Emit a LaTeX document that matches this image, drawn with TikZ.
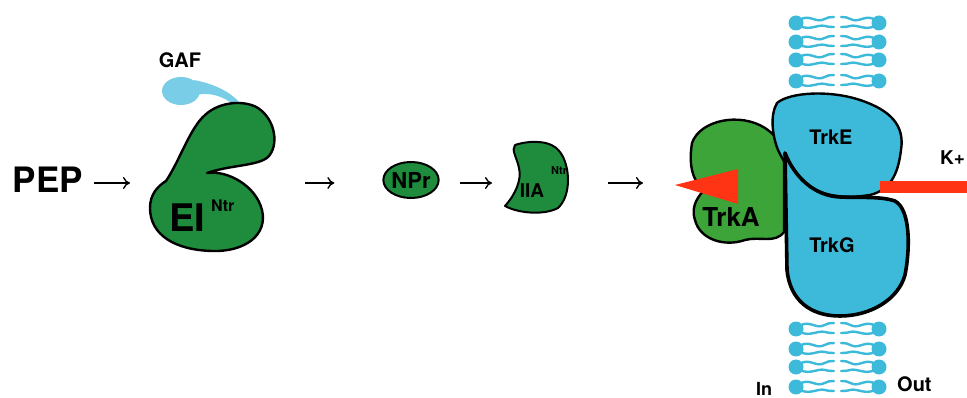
\documentclass[tikz,border=0pt]{standalone}
\usepackage{fontspec}
\setmainfont{TeX Gyre Heros}
\usepackage{tikz}
\usetikzlibrary{calc,positioning,shapes.geometric,arrows.meta}

\definecolor{eigreen}{HTML}{1E8C3C}
\definecolor{trkgreen}{HTML}{3CA438}
\definecolor{trkblue}{HTML}{3DBAD9}
\definecolor{gafblue}{HTML}{7ACDE6}
\definecolor{kred}{HTML}{FF3414}

\newcommand{\fs}[1]{\fontsize{#1}{#1}\selectfont\bfseries}

\tikzset{
  flow/.style={line width=1.4pt,-{To[length=7pt,width=12pt,line width=1.4pt]}},
  protein/.style={draw=black,line width=2.4pt,line join=round},
  lbl/.style={inner sep=0pt,anchor=base},
  lipid/.style={draw=trkblue,line width=2.4pt,line cap=round}
}

\begin{document}
\begin{tikzpicture}[x=1pt,y=-1pt]
\useasboundingbox (0,0) rectangle (967,398);

% PEP and EI(Ntr) with its GAF domain
\node[lbl] (pep) at (48,193) {\fs{35}PEP};
\fill[gafblue] (181,91) ellipse [x radius=19,y radius=14];
\fill[gafblue] (194,80) .. controls (215,84) and (230,92) .. (239,102)
  -- (233,104) .. controls (222,96) and (210,92) .. (196,95) -- cycle;
\draw[protein,fill=eigreen] (207,173) .. controls (228,170) and (256,186) .. (262,210)
  .. controls (268,235) and (245,252) .. (212,251)
  .. controls (175,250) and (150,235) .. (150,208)
  .. controls (150,194) and (158,186) .. (166,181)
  .. controls (180,160) and (190,128) .. (205,115)
  .. controls (220,101) and (245,100) .. (258,108)
  .. controls (276,120) and (279,146) .. (268,157)
  .. controls (258,166) and (230,165) .. (207,173) -- cycle;
\node[lbl] (gaf) at (180,68) {\fs{20}GAF};
\node[lbl] (ei) at (187,232) {\fs{38}EI};
\node[lbl,anchor=base west] (eisup) at (211,212) {\fs{16}Ntr};
\coordinate (eiW) at (150,183);
\coordinate (eiE) at (272,183);

% NPr and IIA(Ntr)
\node[ellipse,draw,line width=2pt,fill=eigreen,inner sep=0pt,
  minimum width=47pt,minimum height=36pt] (npr) at (411,180) {\fs{22}NPr};
\draw[protein,line width=2pt,fill=eigreen] (515,145) .. controls (530,140) and (552,140) .. (560,152)
  .. controls (570,165) and (572,195) .. (558,208)
  .. controls (545,215) and (520,214) .. (505,206)
  .. controls (515,195) and (522,180) .. (519,168)
  .. controls (517,158) and (511,150) .. (515,145) -- cycle;
\node[lbl] (iia) at (532,198) {\fs{19}IIA};
\node[lbl,anchor=base west] (iiasup) at (551,175) {\fs{11}Ntr};
\coordinate (iiaW) at (505,183);
\coordinate (iiaE) at (570,183);

% membrane
\foreach \y in {23,42,60,81,329,349,367,387}{
  \fill[trkblue] (796,\y) circle (7.5) (879,\y) circle (7.5);
  \draw[lipid] (800,\y-3) .. controls (808,\y-9) and (815,\y-1) .. (822,\y-3)
    .. controls (828,\y-5) and (830,\y-7) .. (834,\y-6);
  \draw[lipid] (800,\y+3) .. controls (810,\y+8) and (818,\y+1) .. (825,\y+3)
    .. controls (829,\y+4) and (831,\y+4) .. (834,\y+4);
  \draw[lipid] (875,\y-3) .. controls (867,\y-9) and (860,\y-1) .. (853,\y-3)
    .. controls (847,\y-5) and (845,\y-7) .. (841,\y-6);
  \draw[lipid] (875,\y+3) .. controls (865,\y+8) and (857,\y+1) .. (850,\y+3)
    .. controls (846,\y+4) and (844,\y+4) .. (841,\y+4);
}

% Trk system
\draw[protein,fill=trkgreen] (692,143) .. controls (700,120) and (740,112) .. (765,128)
  .. controls (780,138) and (785,150) .. (784,165) -- (784,232)
  .. controls (775,244) and (760,236) .. (745,240)
  .. controls (725,247) and (700,240) .. (695,220)
  .. controls (690,205) and (700,195) .. (704,190)
  .. controls (694,182) and (688,168) .. (692,143) -- cycle;
\draw[protein,fill=trkblue] (777,103) .. controls (790,92) and (830,90) .. (860,100)
  .. controls (890,110) and (905,125) .. (901,150)
  .. controls (898,175) and (890,190) .. (870,195)
  .. controls (850,198) and (830,198) .. (812,188)
  .. controls (795,178) and (785,165) .. (778,150)
  .. controls (772,135) and (770,115) .. (777,103) -- cycle;
\draw[protein,line width=3.6pt,fill=trkblue] (785,153) .. controls (795,178) and (815,196) .. (840,197)
  .. controls (860,198) and (880,196) .. (895,201)
  .. controls (911,210) and (910,250) .. (905,275)
  .. controls (898,300) and (870,316) .. (840,316)
  .. controls (810,316) and (790,300) .. (787,270) -- cycle;
\fill[kred] (675,185) -- (738,169) -- (738,204) -- cycle;
\fill[kred] (880,181) rectangle (970,193);
\coordinate (trkW) at (675,183);
\node[lbl] (trka) at (731,227) {\fs{26}TrkA};
\node[lbl] (trke) at (831,145) {\fs{20}TrkE};
\node[lbl] (trkg) at (832,253) {\fs{20}TrkG};
\node[lbl,anchor=base west] (kplus) at (940,165) {\fs{19}K+};
\node[lbl,anchor=base west] (in) at (756,395) {\fs{18}In};
\node[lbl,anchor=base west] (out) at (897,391) {\fs{20}Out};

% reaction arrows
\draw[flow,shorten <=11pt,shorten >=20pt] (pep.east |- eiW) -- (eiW);
\draw[flow,shorten <=33pt,shorten >=48pt] (eiE) -- (npr.west |- eiE);
\draw[flow,shorten <=20pt,shorten >=13pt] (npr.east |- iiaW) -- (iiaW);
\draw[flow,shorten <=38pt,shorten >=32pt] (iiaE) -- (trkW);

\end{tikzpicture}
\end{document}
